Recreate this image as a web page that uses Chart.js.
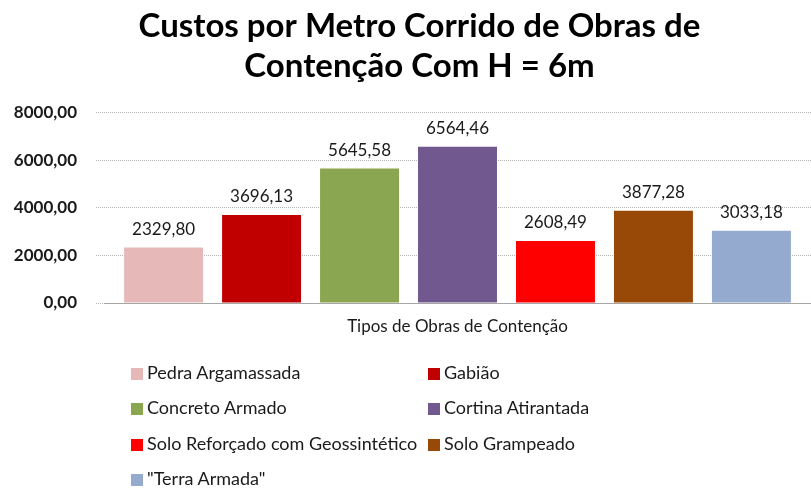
<!DOCTYPE html>
<html>
<head>
<meta charset="utf-8">
<script src="https://cdn.jsdelivr.net/npm/chart.js@4/dist/chart.umd.min.js"></script>
<style>
  html, body { margin: 0; padding: 0; background: #fff; }
  #wrap { position: relative; width: 811px; height: 489px; overflow: hidden; }
  #cw { position: absolute; left: 0; top: 0; width: 811px; height: 340px; }
  #legend { position: absolute; left: 0; top: 0; width: 811px; height: 489px; pointer-events: none; }
  .item { position: absolute; font-family: Lato, sans-serif; font-size: 18px; color: #1a1a1a; line-height: 20px; white-space: nowrap; }
  .sw { display: inline-block; width: 12px; height: 12px; margin-right: 4px; vertical-align: -1px; }
</style>
</head>
<body>
<div id="wrap">
  <div id="cw"><canvas id="c"></canvas></div>
  <div id="legend"></div>
</div>
<script>
const titleLines = ["Custos por Metro Corrido de Obras de", "Contenção Com H = 6m"];
const axisTitle = "Tipos de Obras de Contenção";
const categories = ["Pedra Argamassada", "Gabião", "Concreto Armado", "Cortina Atirantada",
                    "Solo Reforçado com Geossintético", "Solo Grampeado", "\"Terra Armada\""];
const values = [2329.80, 3696.13, 5645.58, 6564.46, 2608.49, 3877.28, 3033.18];
const colors = ["#E6B9B8", "#C00000", "#8BA650", "#71588F", "#FF0000", "#984807", "#94AACF"];
const yTicks = [0, 2000, 4000, 6000, 8000];

const fmt = v => v.toFixed(2).replace('.', ',');

const labelPlugin = {
  id: 'valueLabels',
  afterLayout(chart) {
    // title is centred slightly right of the canvas centre in the reference
    if (chart.titleBlock) chart.titleBlock.left = 28;
  },
  afterDatasetsDraw(chart) {
    const ctx = chart.ctx;
    ctx.save();
    ctx.font = '17px Lato, sans-serif';
    ctx.fillStyle = '#1a1a1a';
    ctx.textAlign = 'center';
    ctx.textBaseline = 'alphabetic';
    chart.data.datasets.forEach((ds, i) => {
      const el = chart.getDatasetMeta(i).data[0];
      if (!el) return;
      ctx.fillText(fmt(ds.data[0]), el.x, el.y - 13);
    });
    ctx.restore();
  }
};

const datasets = categories.map((name, i) => ({
  label: name,
  data: [values[i]],
  backgroundColor: colors[i],
  borderWidth: 0,
  categoryPercentage: 0.97,
  barPercentage: 0.806
}));

new Chart(document.getElementById('c'), {
  type: 'bar',
  data: { labels: [''], datasets },
  options: {
    responsive: true,
    maintainAspectRatio: false,
    animation: false,
    layout: { padding: { left: 0, right: 0, top: 0, bottom: 0 } },
    plugins: {
      legend: { display: false },
      tooltip: { enabled: false },
      title: {
        display: true,
        text: titleLines,
        color: '#000',
        font: { family: 'Lato, sans-serif', size: 33, weight: 'bold', lineHeight: 1.22 },
        padding: { top: 6, bottom: 26 }
      }
    },
    scales: {
      x: {
        type: 'category',
        grid: { display: false },
        ticks: { display: false },
        border: { display: true, color: '#a6a6a6', width: 1 },
        title: {
          display: true,
          text: axisTitle,
          color: '#1a1a1a',
          font: { family: 'Lato, sans-serif', size: 17, lineHeight: 1.2 },
          padding: { top: 0, bottom: 3 }
        },
        afterFit(scale) { scale.height = 37; }
      },
      y: {
        min: 0, max: 8000,
        afterBuildTicks(scale) { scale.ticks = yTicks.map(v => ({ value: v })); },
        ticks: {
          padding: 19,
          color: '#1a1a1a',
          font: { family: 'Lato, sans-serif', size: 17, weight: 'bold' },
          callback: v => fmt(v)
        },
        grid: {
          color: '#b4b4b4',
          tickColor: '#b4b4b4',
          tickLength: 8,
          drawTicks: true,
          tickBorderDash: [1, 1]
        },
        border: { display: false, dash: [1, 1] },
        afterFit(scale) { scale.width = 104; }
      }
    }
  },
  plugins: [labelPlugin]
});

// HTML legend in two columns
const legend = document.getElementById('legend');
const colX = [131, 428];
const rowY = [362, 397, 433, 468];
categories.forEach((name, i) => {
  const d = document.createElement('div');
  d.className = 'item';
  d.style.left = colX[i % 2] + 'px';
  d.style.top = rowY[Math.floor(i / 2)] + 'px';
  const s = document.createElement('span');
  s.className = 'sw';
  s.style.background = colors[i];
  d.appendChild(s);
  d.appendChild(document.createTextNode(name));
  legend.appendChild(d);
});
</script>
</body>
</html>
